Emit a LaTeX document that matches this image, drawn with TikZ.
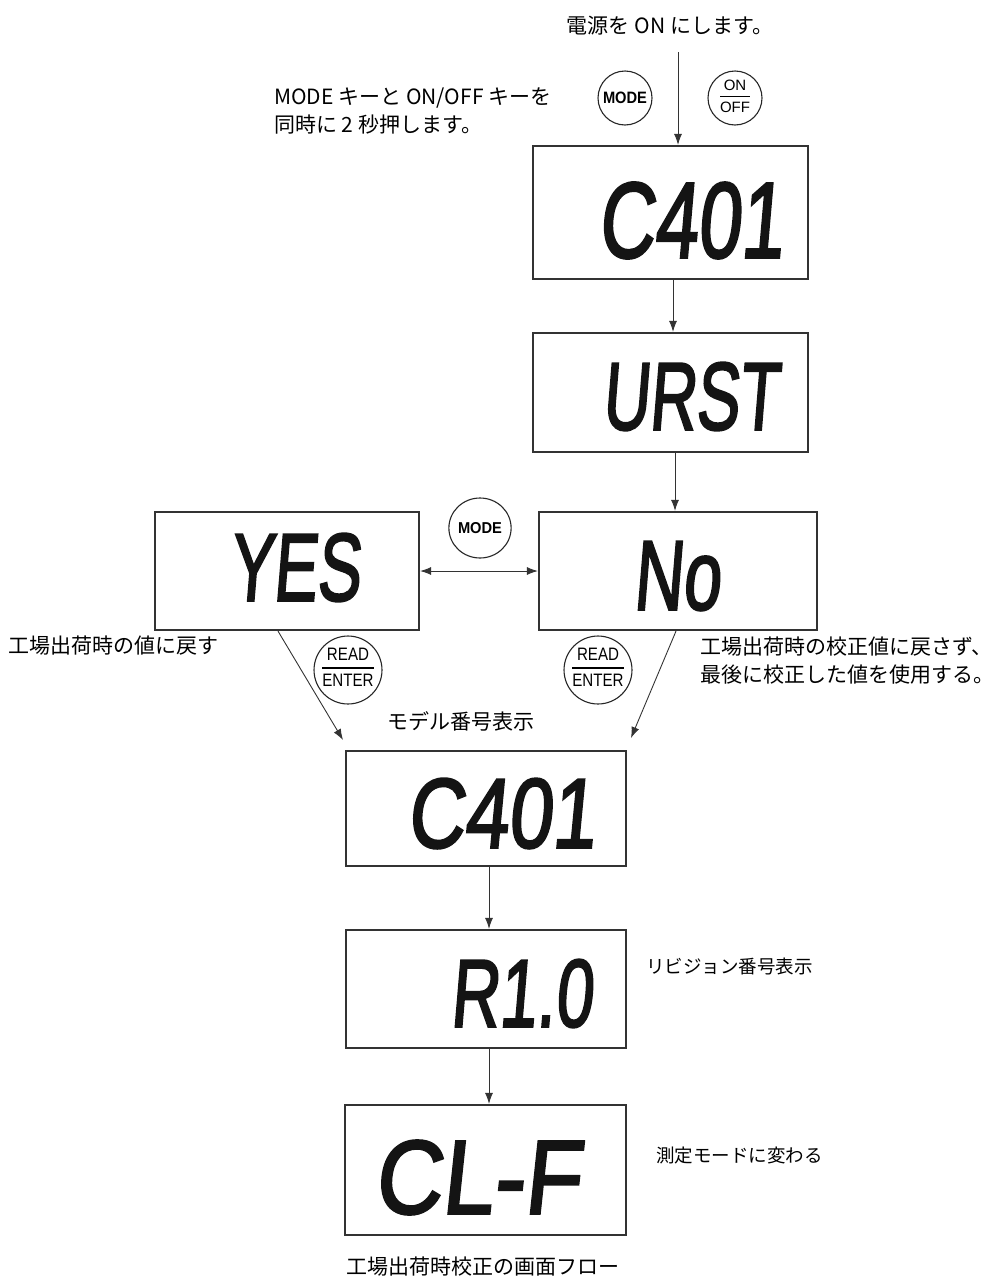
\documentclass[tikz,border=0pt]{standalone}
\usepackage{fontspec}
\usepackage{graphicx}
\usetikzlibrary{arrows.meta,calc,shapes.geometric}
\newfontfamily\jp{Noto Sans CJK JP}
\newfontfamily\lcdf[FakeSlant=0.12,FakeBold=2.5]{Liberation Sans}
\newfontfamily\btnf{Liberation Sans}
\newcommand{\lcdtext}[3]{\resizebox{#1pt}{#2pt}{\lcdf #3}}
\newcommand{\fracbtn}[3]{{\btnf\fontsize{#3}{#3}\selectfont\setlength{\arrayrulewidth}{1.4pt}\renewcommand{\arraystretch}{1.05}\setlength{\tabcolsep}{0pt}\begin{tabular}{c}#1\\[1pt]\hline\rule{0pt}{#3pt}#2\end{tabular}}}
\tikzset{
  lcdbox/.style={draw=black!80, line width=2.2pt, rectangle, inner sep=0pt},
  lcdtxt/.style={inner sep=0pt, text=black!92},
  arr/.style={draw=black!80, line width=0.9pt, -{Latex[length=11pt,width=8pt]}},
  darr/.style={draw=black!80, line width=0.9pt, {Latex[length=11pt,width=8pt]}-{Latex[length=11pt,width=8pt]}},
  btn/.style={draw=black!85, line width=1.1pt, circle, inner sep=0pt},
  btnell/.style={draw=black!85, line width=1.1pt, ellipse, inner sep=0pt},
  lbl/.style={inner sep=0pt, font=\jp\fontsize{21}{28}\selectfont},
  slbl/.style={inner sep=0pt, font=\jp\fontsize{18.5}{26}\selectfont},
}
\begin{document}
\begin{tikzpicture}[x=1pt,y=-1pt]
\useasboundingbox (0,0) rectangle (995,1288);

% top texts
\node[lbl] (ton) at (670,26) {電源を ON にします。};
\node[lbl, anchor=west, align=left] (tkeys) at (274,111) {MODE キーと ON/OFF キーを\\同時に 2 秒押します。};

% buttons at top
\node[btn, minimum size=54pt] (mode1) at (625,98) {\resizebox{44pt}{11.5pt}{\btnf\bfseries MODE}};
\node[btn, minimum size=54pt] (onoff) at (735,98) {\fracbtn{ON}{OFF}{15}};

% display boxes
\node[lcdbox, minimum width=275pt, minimum height=133pt] (b1) at (670.5,212.5) {};
\node[lcdbox, minimum width=275pt, minimum height=119pt] (b2) at (670.5,392.5) {};
\node[lcdbox, minimum width=264pt, minimum height=118pt] (yes) at (287,571) {};
\node[lcdbox, minimum width=278pt, minimum height=118pt] (no) at (678,571) {};
\node[lcdbox, minimum width=280pt, minimum height=115pt] (b5) at (486,808.5) {};
\node[lcdbox, minimum width=280pt, minimum height=118pt] (b6) at (486,989) {};
\node[lcdbox, minimum width=281pt, minimum height=130pt] (b7) at (485.5,1170) {};

% display contents
\node[lcdtxt] (d1) at (690.5,220.5) {\lcdtext{185}{75}{C401}};
\node[lcdtxt] (d2) at (690,396.5) {\lcdtext{176}{67}{URST}};
\node[lcdtxt] (d3) at (294.5,567.5) {\lcdtext{131}{67}{YES}};
\node[lcdtxt] (d4) at (676.5,576) {\lcdtext{87}{68}{No}};
\node[lcdtxt] (d5) at (501,813.5) {\lcdtext{188}{69}{C401}};
\node[lcdtxt] (d6) at (521,993.5) {\lcdtext{142}{67}{R1.0}};
\node[lcdtxt] (d7) at (477,1177.5) {\lcdtext{206}{73}{CL-F}};

% middle buttons
\node[btnell, minimum width=56pt, minimum height=60pt] (mode2) at (480,528) {\resizebox{44pt}{11pt}{\btnf\bfseries MODE}};
\node[btn, minimum size=64pt] (read1) at (348,670) {\scalebox{0.84}[1]{\fracbtn{READ}{ENTER}{18}}};
\node[btn, minimum size=64pt] (read2) at (598,670) {\scalebox{0.84}[1]{\fracbtn{READ}{ENTER}{18}}};

% side labels
\node[lbl, anchor=west] (lyes) at (8,646) {工場出荷時の値に戻す};
\node[lbl, anchor=west, align=left] (lno) at (700,661) {工場出荷時の校正値に戻さず、\\最後に校正した値を使用する。};
\node[lbl] (lmodel) at (461,721) {モデル番号表示};
\node[slbl, anchor=west] (lrev) at (646,966) {リビジョン番号表示};
\node[slbl, anchor=west] (lmeas) at (656,1156) {測定モードに変わる};
\node[lbl] (cap) at (483,1267) {工場出荷時校正の画面フロー};

% connectors
\coordinate (pwr) at (678,52);
\draw[arr] (pwr) -- (pwr |- b1.north);
\draw[arr] ([xshift=2.5pt]b1.south) -- ([xshift=2.5pt]b2.north);
\draw[arr] ([xshift=4.5pt]b2.south) -- ([xshift=4.5pt]b2.south |- no.north);
\draw[darr] (yes.east) -- (no.west);
\coordinate (ly) at (343,740);
\coordinate (ln) at (631,738);
\draw[arr] ([xshift=-9pt]yes.south) -- (ly);
\draw[arr] ([xshift=-2pt]no.south) -- (ln);
\draw[arr] ([xshift=3pt]b5.south) -- ([xshift=3pt]b6.north);
\draw[arr] ([xshift=3pt]b6.south) -- ([xshift=3pt]b6.south |- b7.north);
\end{tikzpicture}
\end{document}
